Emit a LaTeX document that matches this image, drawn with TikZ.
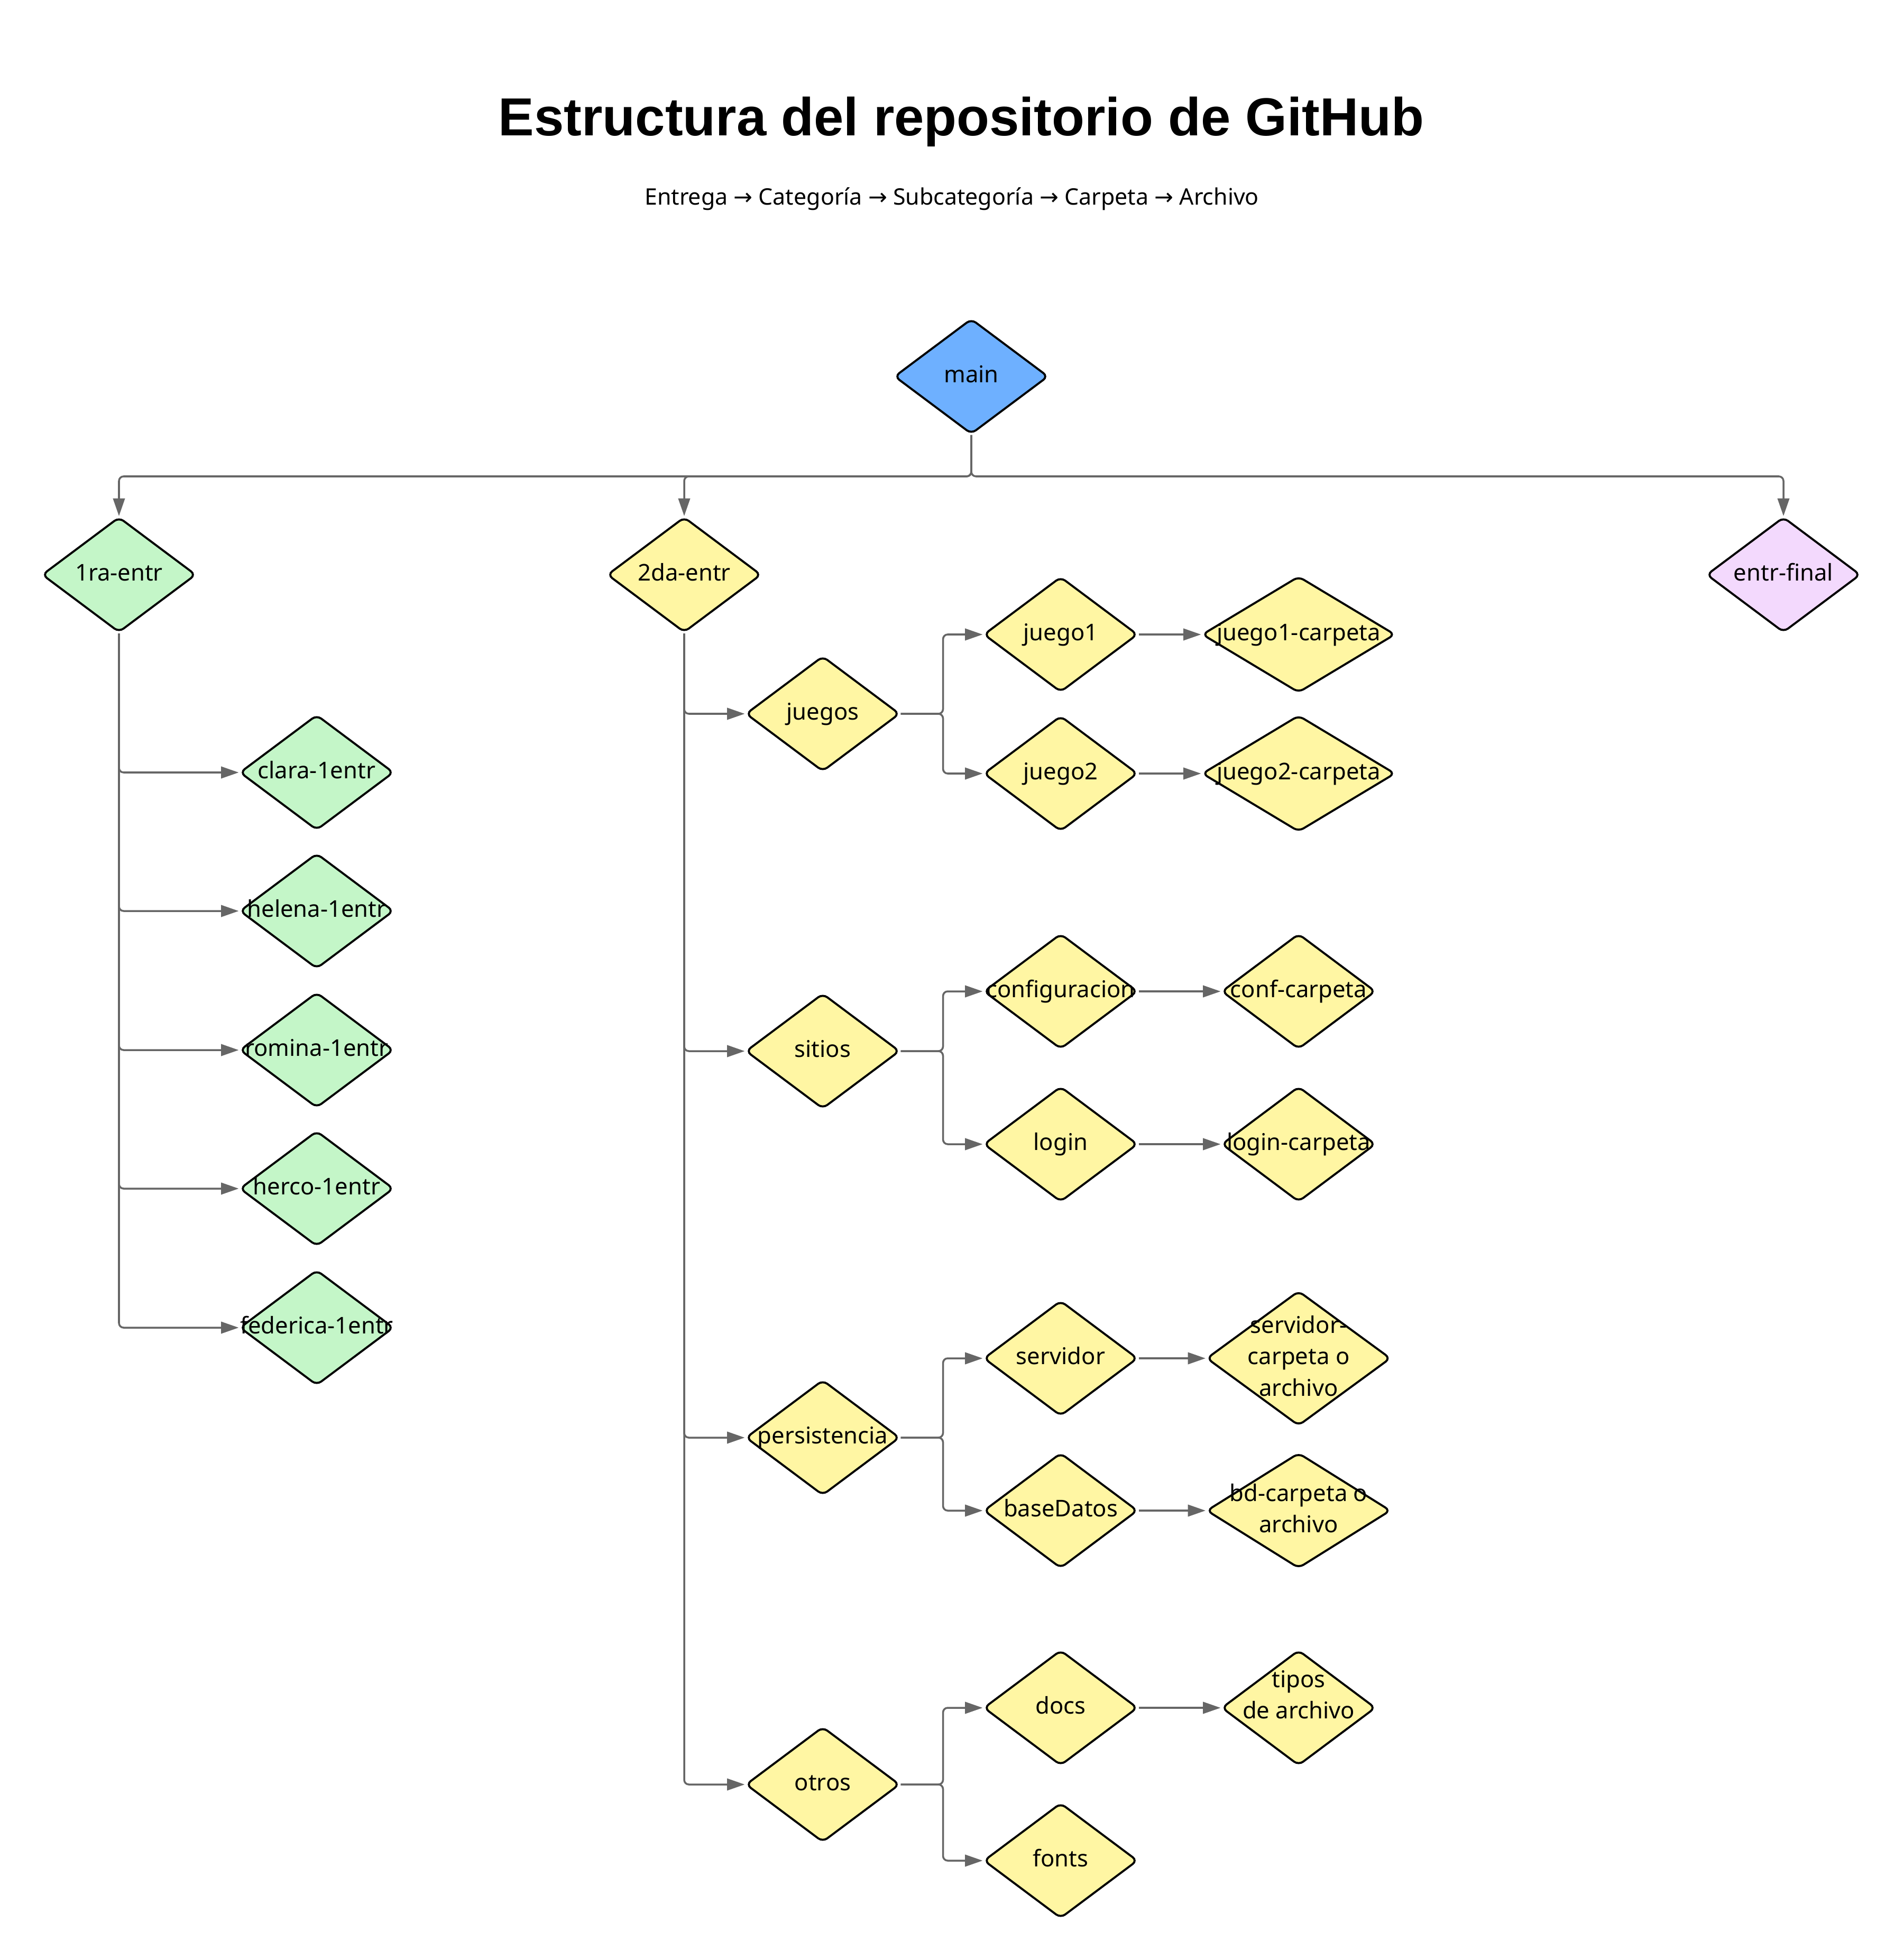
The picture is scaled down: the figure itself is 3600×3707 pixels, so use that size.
\documentclass[tikz,border=0pt]{standalone}
\usepackage{fontspec}
\setmainfont{Noto Sans}
\newfontfamily\titfont{Liberation Sans}
\newfontfamily\flechas{DejaVu Sans}
\usetikzlibrary{shapes.geometric,arrows.meta}

\definecolor{azul}{HTML}{6EB0FF}
\definecolor{verde}{HTML}{C4F6C8}
\definecolor{amarillo}{HTML}{FFF6A3}
\definecolor{lila}{HTML}{F3D9FD}
\definecolor{gris}{HTML}{666666}

% texto centrado que no ensancha el rombo
\newcommand{\rt}[1]{\makebox[0pt]{\begin{tabular}{@{}c@{}}#1\end{tabular}}}
\newcommand{\fl}{{\flechas →}}

\tikzset{
  rombo/.style={diamond, draw=black, line width=1.1pt, rounded corners=3pt,
    inner sep=0pt, minimum width=2.91cm, minimum height=2.18cm,
    font=\fontsize{12.4pt}{17pt}\selectfont},
  conn/.style={draw=gris, line width=1pt, rounded corners=2.5pt,
    -{Triangle[length=9.5pt,width=6.3pt]}},
  titulo/.style={font=\titfont\fontsize{28.8pt}{34pt}\selectfont\bfseries},
  subtit/.style={font=\fontsize{12.2pt}{15pt}\selectfont}
}

\begin{document}
\begin{tikzpicture}[x=0.01cm,y=-0.01cm]
			\useasboundingbox (0,0) rectangle (3600,3707);
			\node[titulo] (tit) at (1818,230) {Estructura del repositorio de GitHub};
			\node[subtit] (sub) at (1800,376) {Entrega \fl{} Categoría \fl{} Subcategoría \fl{} Carpeta \fl{} Archivo};

			% entregas
			\node[rombo, fill=azul] (main) at (1837,712) {\rt{main}};
			\node[rombo, fill=verde] (e1) at (225,1087) {\rt{1ra-entr}};
			\node[rombo, fill=amarillo] (e2) at (1294,1087) {\rt{2da-entr}};
			\node[rombo, fill=lila] (ef) at (3373,1087) {\rt{entr-final}};

			% 1ra entrega
			\node[rombo, fill=verde] (clara) at (599,1461) {\rt{clara-1entr}};
			\node[rombo, fill=verde] (helena) at (599,1723) {\rt{helena-1entr}};
			\node[rombo, fill=verde] (romina) at (599,1986) {\rt{romina-1entr}};
			\node[rombo, fill=verde] (herco) at (599,2248) {\rt{herco-1entr}};
			\node[rombo, fill=verde] (federica) at (599,2511) {\rt{federica-1entr}};

			% 2da entrega
			\node[rombo, fill=amarillo] (juegos) at (1556,1350) {\rt{juegos}};
			\node[rombo, fill=amarillo] (sitios) at (1556,1988) {\rt{sitios}};
			\node[rombo, fill=amarillo] (persistencia) at (1556,2719) {\rt{persistencia}};
			\node[rombo, fill=amarillo] (otros) at (1556,3375) {\rt{otros}};

			\node[rombo, fill=amarillo] (juego1) at (2006,1200) {\rt{juego1}};
			\node[rombo, fill=amarillo] (juego2) at (2006,1463) {\rt{juego2}};
			\node[rombo, fill=amarillo] (configuracion) at (2006,1875) {\rt{configuracion}};
			\node[rombo, fill=amarillo] (login) at (2006,2164) {\rt{login}};
			\node[rombo, fill=amarillo] (servidor) at (2006,2569) {\rt{servidor}};
			\node[rombo, fill=amarillo] (baseDatos) at (2006,2857) {\rt{baseDatos}};
			\node[rombo, fill=amarillo] (docs) at (2006,3230) {\rt{docs}};
			\node[rombo, fill=amarillo] (fonts) at (2006,3519) {\rt{fonts}};

			\node[rombo, fill=amarillo, minimum width=3.65cm, minimum height=2.2cm] (juego1c) at (2456,1200) {\rt{juego1-carpeta}};
			\node[rombo, fill=amarillo, minimum width=3.65cm, minimum height=2.2cm] (juego2c) at (2456,1463) {\rt{juego2-carpeta}};
			\node[rombo, fill=amarillo] (confc) at (2456,1875) {\rt{conf-carpeta}};
			\node[rombo, fill=amarillo] (loginc) at (2456,2164) {\rt{login-carpeta}};
			\node[rombo, fill=amarillo, minimum width=3.48cm, minimum height=2.55cm] (servc) at (2456,2569) {\rt{servidor-\\carpeta o\\archivo}};
			\node[rombo, fill=amarillo, minimum width=3.48cm] (bdc) at (2456,2857) {\rt{bd-carpeta o\\archivo}};
			\node[rombo, fill=amarillo, text height=10pt, text depth=16pt] (tipos) at (2456,3230) {\rt{tipos\\de archivo}};

			% conexiones
			\draw[conn] (main.south) -- ++(0,78) -| (e1.north);
			\draw[conn] (main.south) -- ++(0,78) -| (e2.north);
			\draw[conn] (main.south) -- ++(0,78) -| (ef.north);

			\foreach \n in {clara,helena,romina,herco,federica}
				\draw[conn] (e1.south) |- (\n.west);
			\foreach \n in {juegos,sitios,persistencia,otros}
				\draw[conn] (e2.south) |- (\n.west);

			\draw[conn] (juegos.east) -- ++(80,0) |- (juego1.west);
			\draw[conn] (juegos.east) -- ++(80,0) |- (juego2.west);
			\draw[conn] (sitios.east) -- ++(80,0) |- (configuracion.west);
			\draw[conn] (sitios.east) -- ++(80,0) |- (login.west);
			\draw[conn] (persistencia.east) -- ++(80,0) |- (servidor.west);
			\draw[conn] (persistencia.east) -- ++(80,0) |- (baseDatos.west);
			\draw[conn] (otros.east) -- ++(80,0) |- (docs.west);
			\draw[conn] (otros.east) -- ++(80,0) |- (fonts.west);

			\draw[conn] (juego1.east) -- (juego1c.west);
			\draw[conn] (juego2.east) -- (juego2c.west);
			\draw[conn] (configuracion.east) -- (confc.west);
			\draw[conn] (login.east) -- (loginc.west);
			\draw[conn] (servidor.east) -- (servc.west);
			\draw[conn] (baseDatos.east) -- (bdc.west);
			\draw[conn] (docs.east) -- (tipos.west);
		\end{tikzpicture}
\end{document}
